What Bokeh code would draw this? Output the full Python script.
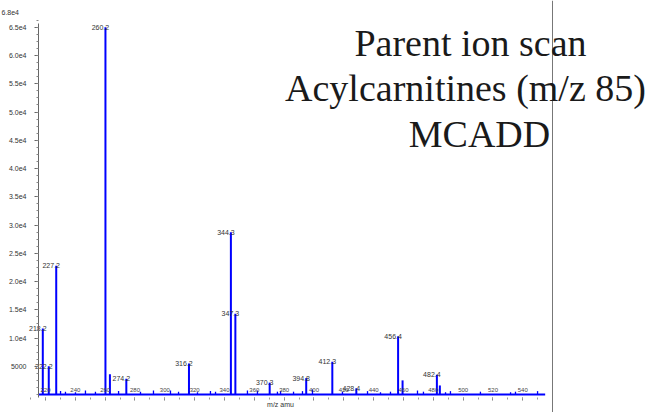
from bokeh.plotting import figure
from bokeh.models import Range1d, FixedTicker, Span, Label, ColumnDataSource, LinearAxis
from bokeh.core.properties import value
from bokeh.embed import file_html
from bokeh.resources import INLINE

# Parent ion scan of m/z 85, butyl-ester acylcarnitine profile (MCADD)
# Labelled peaks: m/z and intensity (counts)
peak_mz = [218.2, 222.2, 227.2, 260.2, 263.2, 274.2, 316.2, 344.3, 347.3,
           370.3, 394.8, 412.3, 428.4, 456.4, 459.4, 482.4, 484.4]
peak_counts = [11700, 5000, 22800, 65000, 3600, 2800, 5500, 28700, 14300,
               2100, 2900, 5800, 1100, 10300, 2500, 3500, 1600]
peak_labelled = [True, True, True, True, False, True, True, True, True,
                 True, True, True, True, True, False, True, False]

# Small unlabelled signals along the baseline
noise_mz = [230.1, 233.4, 240.1, 246.8, 253.5, 269.0, 283.7, 292.4, 303.8,
            309.2, 321.9, 330.6, 334.0, 355.4, 362.1, 375.5, 377.6, 386.3,
            392.3, 399.0, 419.1, 435.9, 444.6, 451.3, 469.4, 473.4, 488.2,
            491.5, 511.6, 531.8, 535.1, 549.9]
noise_counts = [600, 500, 400, 700, 500, 600, 500, 700, 700,
                500, 400, 600, 500, 700, 700, 500, 600, 500,
                600, 900, 500, 600, 400, 500, 700, 500, 400,
                600, 500, 400, 500, 600]

scan_range = [215.5, 555.0]

y_ticks = [5000, 10000, 15000, 20000, 25000, 30000, 35000,
           40000, 45000, 50000, 55000, 60000, 65000]
y_tick_labels = ["5000", "1.0e4", "1.5e4", "2.0e4", "2.5e4", "3.0e4", "3.5e4",
                 "4.0e4", "4.5e4", "5.0e4", "5.5e4", "6.0e4", "6.5e4"]
full_scale_label = "6.8e4"
x_ticks = [220, 240, 260, 280, 300, 320, 340, 360, 380, 400,
           420, 440, 460, 480, 500, 520, 540]

title_lines = ["Parent ion scan", "Acylcarnitines (m/z 85)", "MCADD"]

# ---- figure: the plotting frame covers the whole page -------------------
W, H = 650, 412
AXIS_X_PX, AXIS_Y_PX = 38, 397      # where the two axes sit
AXIS_TOP_PX = 23                    # top end of the intensity axis
PANEL_RIGHT_PX = 552                # right border of the spectrum panel

# x: 1.4916 px per m/z unit, 218.0 at px 42 ; y: 5.65 px per 1000 counts, 0 at px 394
x_range = Range1d(218.0 - 42 / 1.4916, 218.0 + (W - 42) / 1.4916)
y_range = Range1d(-(H - 394) / 5.65 * 1000, 394 / 5.65 * 1000)

p = figure(width=W, height=H, x_range=x_range, y_range=y_range,
           output_backend="svg", toolbar_location=None,
           x_axis_location=None, y_axis_location=None,
           min_border=0, min_border_left=0, min_border_right=0,
           min_border_top=0, min_border_bottom=0)
p.outline_line_color = None
p.xgrid.visible = False
p.ygrid.visible = False
p.background_fill_color = "white"
p.border_fill_color = "white"


def mz_at(px):
    return x_range.start + px * (x_range.end - x_range.start) / W


def counts_at(py):
    return y_range.end - py * (y_range.end - y_range.start) / H


# y axis
ya = LinearAxis(fixed_location=mz_at(AXIS_X_PX),
                bounds=(counts_at(AXIS_Y_PX), counts_at(AXIS_TOP_PX)))
ya.ticker = FixedTicker(ticks=y_ticks, minor_ticks=list(range(0, 66251, 1250)))
ya.major_label_overrides = {t: s for t, s in zip(y_ticks, y_tick_labels)}
ya.axis_line_color = "#666666"
ya.major_tick_line_color = "#666666"
ya.minor_tick_line_color = "#888888"
ya.major_tick_in = 0
ya.major_tick_out = 4
ya.minor_tick_in = 0
ya.minor_tick_out = 2
ya.major_label_standoff = 8
ya.major_label_text_font = "Liberation Sans"
ya.major_label_text_font_size = "7px"
ya.major_label_text_color = "#333333"
p.add_layout(ya, "left")

# x axis
xa = LinearAxis(fixed_location=counts_at(AXIS_Y_PX))
xa.ticker = FixedTicker(ticks=x_ticks, minor_ticks=list(range(210, 561, 10)))
xa.axis_line_color = None
xa.major_tick_line_color = "#777777"
xa.minor_tick_line_color = "#999999"
xa.major_tick_in = 0
xa.major_tick_out = 3
xa.minor_tick_in = 0
xa.minor_tick_out = 2
xa.major_label_standoff = -13
xa.major_label_text_font = "Liberation Sans"
xa.major_label_text_font_size = "6px"
xa.major_label_text_color = "#444444"
p.add_layout(xa, "below")

p.text(x=[mz_at(280)], y=[counts_at(404)], text=["m/z amu"], text_align="center",
       text_baseline="middle", text_font=value("Liberation Sans"),
       text_font_size="7px", text_color="#333333")

# full-scale intensity, top left
p.add_layout(Label(x=mz_at(1), y=counts_at(12), text=full_scale_label,
                   text_align="left", text_baseline="middle",
                   text_font="Liberation Sans", text_font_size="7px",
                   text_color="#333333"))

# spectrum
BLUE = "#0000ff"
p.line(x=scan_range, y=[0, 0], line_color=BLUE, line_width=2.2)
p.segment(x0=noise_mz, y0=[0] * len(noise_mz), x1=noise_mz, y1=noise_counts,
          line_color=BLUE, line_width=1.3)
p.segment(x0=peak_mz, y0=[0] * len(peak_mz), x1=peak_mz, y1=peak_counts,
          line_color=BLUE, line_width=2.0)

# peak annotations (m/z)
lab = ColumnDataSource(dict(
    x=[m for m, f in zip(peak_mz, peak_labelled) if f],
    y=[c for c, f in zip(peak_counts, peak_labelled) if f],
    text=["%.1f" % m for m, f in zip(peak_mz, peak_labelled) if f],
))
p.text(x="x", y="y", text="text", source=lab, text_align="center",
       text_baseline="middle", x_offset=-5, text_font=value("Liberation Sans"),
       text_font_size="7px", text_color="#333333")

# right border line of the spectrum panel
p.add_layout(Span(location=mz_at(PANEL_RIGHT_PX), dimension="height",
                  line_color="#777777", line_width=1))

# title block
title_centres = [470, 465, 479]
for i, line in enumerate(title_lines):
    p.add_layout(Label(x=mz_at(title_centres[i]), y=counts_at(42 + 45.5 * i),
                       text=line, text_align="center", text_baseline="alphabetic",
                       text_font="Liberation Serif", text_font_size="38px",
                       text_color="#1a1a1a"))

open("out.html", "w").write(file_html(p, INLINE))
